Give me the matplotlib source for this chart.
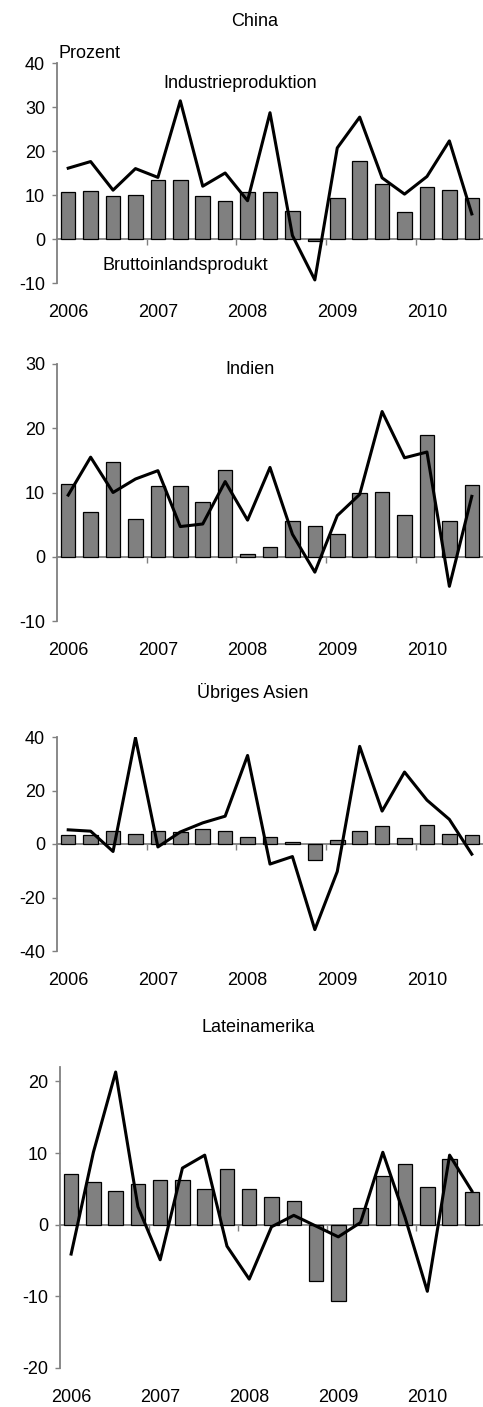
import numpy as np
import matplotlib
matplotlib.use("Agg")
import matplotlib.pyplot as plt

plt.rcParams['font.family'] = ['Liberation Sans', 'DejaVu Sans']
plt.rcParams['axes.unicode_minus'] = False

# quarterly data 2006Q1 - 2010Q3, change in percent
quarters = [f"{y}Q{q}" for y in range(2006, 2011) for q in range(1, 5)][:19]
yearLabels = ["2006", "2007", "2008", "2009", "2010"]

chinaBip = [10.7, 11.0, 9.7, 10.1, 13.4, 13.4, 9.7, 8.7, 10.7, 10.7, 6.3, -0.4, 9.4, 17.8, 12.5, 6.1, 11.8, 11.1, 9.3]
chinaIp = [16.1, 17.6, 11.1, 16.0, 14.0, 31.4, 12.0, 15.0, 8.7, 28.7, 0.8, -9.3, 20.7, 27.7, 13.9, 10.2, 14.2, 22.3, 5.7]

indienBip = [11.3, 6.9, 14.7, 5.8, 11.0, 11.0, 8.5, 13.5, 0.5, 1.5, 5.6, 4.8, 3.5, 9.9, 10.1, 6.5, 19.0, 5.6, 11.2]
indienIp = [9.6, 15.5, 10.0, 12.1, 13.4, 4.7, 5.1, 11.7, 5.7, 13.9, 3.5, -2.4, 6.4, 9.7, 22.6, 15.4, 16.3, -4.6, 9.4]

asienBip = [3.3, 3.3, 4.9, 3.9, 4.9, 4.4, 5.5, 4.9, 2.8, 2.8, 0.6, -5.8, 1.6, 4.9, 6.7, 2.3, 7.2, 3.9, 3.4]
asienIp = [5.3, 4.8, -2.8, 39.7, -1.1, 4.5, 7.9, 10.4, 33.1, -7.5, -4.7, -32.0, -10.3, 36.5, 12.3, 26.9, 16.4, 9.2, -3.8]

lateinBip = [7.0, 5.9, 4.7, 5.7, 6.2, 6.2, 5.0, 7.7, 5.0, 3.9, 3.3, -7.8, -10.7, 2.3, 6.8, 8.5, 5.2, 9.1, 4.6]
lateinIp = [-4.1, 10.1, 21.3, 2.5, -4.9, 7.9, 9.7, -3.0, -7.6, -0.3, 1.3, -0.2, -1.7, 0.3, 10.1, 1.0, -9.3, 9.7, 4.7]

W, H = 483, 1407
GREY = '#808080'
FS = 13


def px(x, y):
	return x / W, 1 - y / H


def axesRect(left, top, right, bottom):
	return [left / W, 1 - bottom / H, (right - left) / W, (bottom - top) / H]


def drawPanel(ax, bip, ip, yTicks, yLim):
	x = np.arange(len(quarters))
	ax.bar(x, bip, width=0.65, color=GREY, edgecolor='black', linewidth=0.9, zorder=2)
	ax.plot(x, ip, color='black', linewidth=2.2, zorder=3)
	ax.set_xlim(-0.5, len(quarters) - 0.5)
	ax.set_ylim(*yLim)
	ax.set_yticks(yTicks)

	for s in ['top', 'right']:
		ax.spines[s].set_visible(False)
	ax.spines['left'].set_color(GREY)
	ax.spines['left'].set_linewidth(1.3)
	ax.spines['bottom'].set_position(('data', 0))
	ax.spines['bottom'].set_color(GREY)
	ax.spines['bottom'].set_linewidth(1.3)
	ax.spines['bottom'].set_zorder(1)

	# year boundaries as ticks on the zero line
	ax.set_xticks([3.5, 7.5, 11.5, 15.5])
	ax.tick_params(axis='x', direction='out', length=4, width=1, color=GREY, labelbottom=False)
	ax.tick_params(axis='y', direction='out', length=3.5, width=1, color=GREY, labelsize=FS, pad=5)
	ax.patch.set_visible(False)

	for i, lab in enumerate(yearLabels):
		ax.annotate(lab, xy=(i * 4, 0), xycoords=('data', 'axes fraction'), xytext=(0, -21.5),
			textcoords='offset points', ha='center', va='center', fontsize=FS)


fig = plt.figure(figsize=(W / 100, H / 100), dpi=100)

ax1 = fig.add_axes(axesRect(57, 63, 483, 283))
drawPanel(ax1, chinaBip, chinaIp, [-10, 0, 10, 20, 30, 40], (-10, 40))

ax2 = fig.add_axes(axesRect(57, 364, 483, 621))
drawPanel(ax2, indienBip, indienIp, [-10, 0, 10, 20, 30], (-10, 30))

ax3 = fig.add_axes(axesRect(57, 737, 483, 951))
drawPanel(ax3, asienBip, asienIp, [-40, -20, 0, 20, 40], (-40, 40))

ax4 = fig.add_axes(axesRect(60, 1067, 483, 1368))
drawPanel(ax4, lateinBip, lateinIp, [-20, -10, 0, 10, 20], (-20, 22))

# titles and labels
fig.text(*px(255, 21), "China", ha='center', va='center', fontsize=FS)
fig.text(*px(59, 53), "Prozent", ha='left', va='center', fontsize=FS)
fig.text(*px(240, 83), "Industrieproduktion", ha='center', va='center', fontsize=FS)
fig.text(*px(185, 265), "Bruttoinlandsprodukt", ha='center', va='center', fontsize=FS)
fig.text(*px(250, 369), "Indien", ha='center', va='center', fontsize=FS)
fig.text(*px(253, 692), "Übriges Asien", ha='center', va='center', fontsize=FS)
fig.text(*px(258, 1028), "Lateinamerika", ha='center', va='center', fontsize=FS)

fig.savefig("out.png", dpi=100)
